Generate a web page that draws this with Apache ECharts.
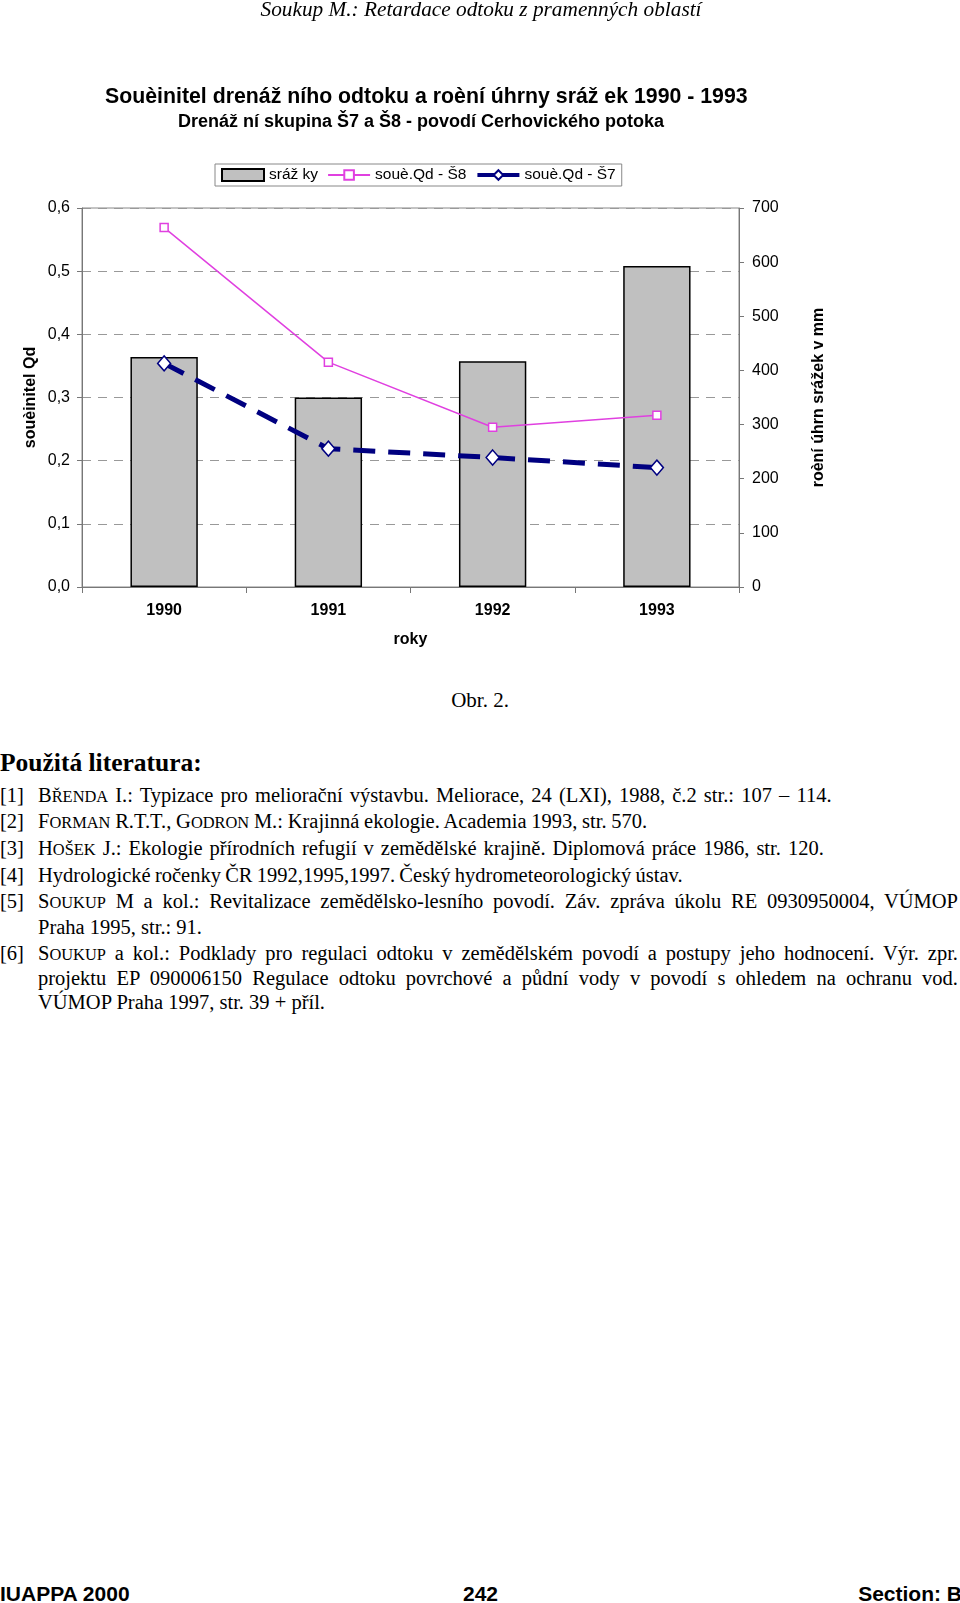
<!DOCTYPE html>
<html><head><meta charset="utf-8">
<script src="https://cdn.jsdelivr.net/npm/echarts@6/dist/echarts.min.js"></script>
<style>
html,body{margin:0;padding:0;background:#fff;width:960px;height:1603px;overflow:hidden;position:relative;}
#chart{position:absolute;left:0;top:0;width:960px;height:660px;z-index:1;}
.txt{position:absolute;z-index:2;white-space:nowrap;}
.serif{font-family:"Liberation Serif","Times New Roman",serif;color:#000;}
.sans{font-family:"Liberation Sans",Arial,sans-serif;color:#000;}
#hdr{top:-4px;left:0;width:962px;text-align:center;font-size:21.3px;line-height:26px;font-style:italic;}
#obr{top:688px;left:0;width:960px;text-align:center;font-size:21px;line-height:24px;}
#lit{top:749px;left:0;font-size:25.5px;line-height:28px;font-weight:bold;}
.ln{position:absolute;left:38px;width:920px;font-size:20.5px;line-height:26px;height:26px;white-space:nowrap;overflow:visible;z-index:2;}
.ln.j{text-align:justify;text-align-last:justify;white-space:normal;}
.num{position:absolute;left:0;font-size:20.5px;line-height:26px;z-index:2;}
.s{font-size:0.8em;}
#foot{top:1581px;left:0;width:962px;height:28px;font-size:21px;line-height:26px;font-weight:bold;}
#foot span{position:absolute;top:0;}
</style></head>
<body>
<div id="chart"></div>
<div id="hdr" class="txt serif">Soukup M.: Retardace odtoku z pramenných oblastí</div>
<div id="obr" class="txt serif">Obr. 2.</div>
<div id="lit" class="txt serif">Použitá literatura:</div>

<div class="num serif" style="top:782px">[1]</div>
<div class="ln serif" style="top:782px;word-spacing:2px">B<span class="s">ŘENDA</span> I.: Typizace pro meliorační výstavbu. Meliorace, 24 (LXI), 1988, č.2 str.: 107 – 114.</div>
<div class="num serif" style="top:808px">[2]</div>
<div class="ln serif" style="top:808px;word-spacing:-0.4px">F<span class="s">ORMAN</span> R.T.T., G<span class="s">ODRON</span> M.: Krajinná ekologie. Academia 1993, str. 570.</div>
<div class="num serif" style="top:835px">[3]</div>
<div class="ln serif" style="top:835px;word-spacing:1.9px">H<span class="s">OŠEK</span> J.: Ekologie přírodních refugií v zemědělské krajině. Diplomová práce 1986, str. 120.</div>
<div class="num serif" style="top:862px">[4]</div>
<div class="ln serif" style="top:862px;word-spacing:-0.9px">Hydrologické ročenky ČR 1992,1995,1997. Český hydrometeorologický ústav.</div>
<div class="num serif" style="top:888px">[5]</div>
<div class="ln j serif" style="top:888px">S<span class="s">OUKUP</span> M a kol.: Revitalizace zemědělsko-lesního povodí. Záv. zpráva úkolu RE 0930950004, VÚMOP</div>
<div class="ln serif" style="top:914px">Praha 1995, str.: 91.</div>
<div class="num serif" style="top:940px">[6]</div>
<div class="ln j serif" style="top:940px">S<span class="s">OUKUP</span> a kol.: Podklady pro regulaci odtoku v zemědělském povodí a postupy jeho hodnocení. Výr. zpr.</div>
<div class="ln j serif" style="top:965px">projektu EP 090006150 Regulace odtoku povrchové a půdní vody v povodí s&nbsp;ohledem na ochranu vod.</div>
<div class="ln serif" style="top:989px">VÚMOP Praha 1997, str. 39 + příl.</div>

<div id="foot" class="txt sans"><span style="left:0">IUAPPA 2000</span><span style="left:463px">242</span><span style="right:0">Section: B</span></div>
<script>
var years = ['1990', '1991', '1992', '1993'];
var srazky = [425, 350, 417, 593];
var qdS8 = [0.569, 0.356, 0.253, 0.272];
var qdS7 = [0.354, 0.219, 0.205, 0.189];
var leftTicks = {min: 0, max: 0.6, interval: 0.1};
var rightTicks = {min: 0, max: 700, interval: 100};
var F = '"Liberation Sans", Arial, sans-serif';

var chart = echarts.init(document.getElementById('chart'), null, {renderer: 'canvas'});
chart.setOption({
  animation: false,
  backgroundColor: 'transparent',
  textStyle: {fontFamily: F, color: '#000'},
  graphic: [
    {type: 'text', x: 105, y: 97, style: {text: 'Souèinitel drenáž ního odtoku a roèní úhrny sráž ek 1990 - 1993', font: 'bold 21.3px ' + F, fill: '#000', textVerticalAlign: 'middle'}},
    {type: 'text', x: 421, y: 122, style: {text: 'Drenáž ní skupina Š7 a Š8 - povodí Cerhovického potoka', font: 'bold 18px ' + F, fill: '#000', textAlign: 'center', textVerticalAlign: 'middle'}}
  ],
  legend: {
    left: 215, top: 164, padding: [3, 6], itemGap: 9, itemWidth: 42, itemHeight: 12,
    borderColor: '#888', borderWidth: 1, borderRadius: 0,
    textStyle: {fontSize: 15.5, fontFamily: F, color: '#000'},
    data: [
      {name: 'sráž ky', icon: 'rect'},
      {name: 'souè.Qd - Š8'},
      {name: 'souè.Qd - Š7', lineStyle: {type: 'solid', width: 4}}
    ]
  },
  grid: {left: 82, right: 221, top: 208, bottom: 73, show: true, borderColor: '#888', borderWidth: 1},
  xAxis: {
    type: 'category', data: years, boundaryGap: true,
    name: 'roky', nameLocation: 'middle', nameGap: 45,
    nameTextStyle: {fontSize: 16, fontWeight: 'bold', fontFamily: F, color: '#000'},
    axisLine: {lineStyle: {color: '#777', width: 1}},
    axisTick: {show: true, length: 6, lineStyle: {color: '#777'}},
    axisLabel: {fontSize: 16, fontWeight: 'bold', color: '#000', margin: 16}
  },
  yAxis: [
    {
      type: 'value', min: leftTicks.min, max: leftTicks.max, interval: leftTicks.interval,
      name: 'souèinitel Qd', nameLocation: 'middle', nameGap: 43, nameMoveOverlap: false,
      nameTextStyle: {fontSize: 16, fontWeight: 'bold', fontFamily: F, color: '#000'},
      axisLine: {show: true, lineStyle: {color: '#777'}},
      axisTick: {show: true, length: 5, lineStyle: {color: '#777'}},
      axisLabel: {fontSize: 16, color: '#000', margin: 12, formatter: function (v) { return v.toFixed(1).replace('.', ','); }},
      splitLine: {show: true, lineStyle: {color: '#999', type: [9, 7], width: 1}}
    },
    {
      type: 'value', position: 'right', min: rightTicks.min, max: rightTicks.max, interval: rightTicks.interval,
      name: 'roèní úhrn srážek v mm', nameLocation: 'middle', nameGap: 72, nameRotate: 90, nameMoveOverlap: false,
      nameTextStyle: {fontSize: 16, fontWeight: 'bold', fontFamily: F, color: '#000'},
      axisLine: {show: true, lineStyle: {color: '#777'}},
      axisTick: {show: true, length: 5, lineStyle: {color: '#777'}},
      axisLabel: {fontSize: 16, color: '#000', margin: 13},
      splitLine: {show: false}
    }
  ],
  series: [
    {
      name: 'sráž ky', type: 'bar', yAxisIndex: 1, data: srazky, barWidth: '41%',
      itemStyle: {color: '#c0c0c0', borderColor: '#000', borderWidth: 1.5}
    },
    {
      name: 'souè.Qd - Š8', type: 'line', yAxisIndex: 0, data: qdS8,
      symbol: 'rect', symbolSize: 8,
      lineStyle: {color: '#e040e0', width: 1.5},
      itemStyle: {color: '#fff', borderColor: '#e040e0', borderWidth: 1.5}
    },
    {
      name: 'souè.Qd - Š7', type: 'line', yAxisIndex: 0, data: qdS7,
      symbol: 'diamond', symbolSize: [13, 15],
      lineStyle: {color: '#000080', width: 5, type: [22, 13]},
      itemStyle: {color: '#fff', borderColor: '#000080', borderWidth: 1.5}
    }
  ]
});
</script>
</body></html>
